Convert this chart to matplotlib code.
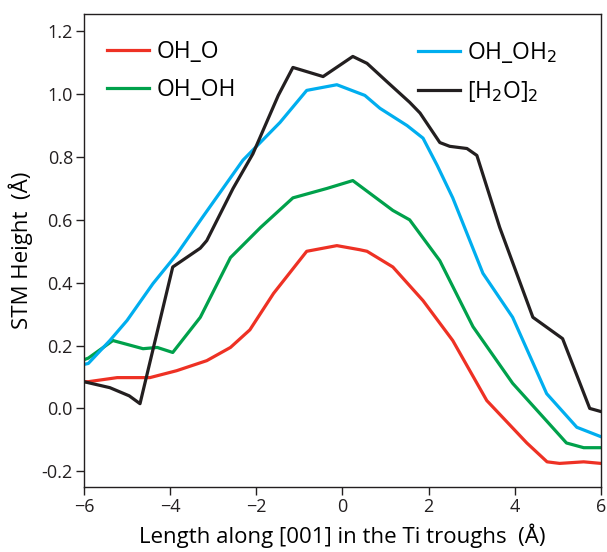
import numpy as np
import matplotlib
matplotlib.use("Agg")
import matplotlib.pyplot as plt

plt.rcParams['font.family'] = ['Open Sans', 'DejaVu Sans']

# OH_O (red)
x_oh_o = [-6.0, -5.9, -5.23, -4.47, -3.85, -3.15, -2.6, -2.15, -1.6, -0.83, -0.13, 0.4, 0.57,
          1.17, 1.87, 2.56, 3.35, 4.28, 4.75, 5.04, 5.6, 6.0]
y_oh_o = [0.085, 0.085, 0.098, 0.098, 0.12, 0.152, 0.194, 0.25, 0.366, 0.50, 0.518, 0.505, 0.50,
          0.45, 0.343, 0.216, 0.025, -0.11, -0.17, -0.175, -0.17, -0.175]

# OH_OH (green)
x_oh_oh = [-6.0, -5.9, -5.33, -4.63, -4.3, -3.94, -3.3, -2.6, -1.9, -1.15, -0.36, 0.24, 1.17,
           1.56, 2.26, 3.03, 3.95, 4.74, 5.2, 5.6, 6.0]
y_oh_oh = [0.155, 0.16, 0.216, 0.19, 0.194, 0.178, 0.29, 0.48, 0.576, 0.67, 0.70, 0.725, 0.63,
           0.60, 0.47, 0.26, 0.08, -0.04, -0.11, -0.125, -0.125]

# OH_OH2 (blue)
x_oh_oh2 = [-6.0, -5.9, -5.4, -5.0, -4.4, -3.85, -3.24, -2.31, -1.45, -0.83, -0.13, 0.52, 0.87,
            1.5, 1.87, 2.2, 2.56, 3.26, 3.95, 4.74, 5.44, 6.0]
y_oh_oh2 = [0.14, 0.143, 0.216, 0.28, 0.397, 0.49, 0.61, 0.79, 0.91, 1.012, 1.03, 0.996, 0.955,
            0.90, 0.86, 0.773, 0.67, 0.43, 0.29, 0.047, -0.06, -0.09]

# [H2O]2 (black)
x_h2o2 = [-6.0, -5.4, -4.95, -4.7, -3.94, -3.3, -3.15, -2.54, -2.08, -1.49, -1.15, -0.45, 0.24,
          0.57, 1.03, 1.56, 1.8, 2.26, 2.49, 2.89, 3.12, 3.65, 4.42, 5.11, 5.74, 6.0]
y_h2o2 = [0.085, 0.066, 0.04, 0.015, 0.45, 0.51, 0.534, 0.70, 0.81, 0.996, 1.085, 1.056, 1.12,
          1.098, 1.04, 0.974, 0.94, 0.846, 0.834, 0.827, 0.805, 0.576, 0.29, 0.222, 0.0, -0.01]

fig = plt.figure(figsize=(6.07, 5.52), dpi=100)
ax = fig.add_axes([0.1384, 0.1178, 0.8516, 0.8568])

lw = 2.3
l1, = ax.plot(x_oh_o, y_oh_o, color='#ee3124', lw=lw, label='OH_O')
l2, = ax.plot(x_oh_oh, y_oh_oh, color='#00a14b', lw=lw, label='OH_OH')
l3, = ax.plot(x_oh_oh2, y_oh_oh2, color='#00aeef', lw=lw, label='OH_OH$_2$')
l4, = ax.plot(x_h2o2, y_h2o2, color='#231f20', lw=lw, label='[H$_2$O]$_2$')

ax.set_xlim(-6, 6)
ax.set_ylim(-0.25, 1.255)
ax.set_xticks(np.arange(-6, 7, 2))
ax.set_yticks(np.arange(-0.2, 1.21, 0.2))
ax.set_yticklabels([f'{v:.1f}' for v in np.arange(-0.2, 1.21, 0.2)])
ax.tick_params(direction='out', length=6, width=1, labelsize=13, colors='#231f20', pad=2)
for s in ax.spines.values():
    s.set_color('#231f20')
    s.set_linewidth(1)

ax.set_xlabel('Length along [001] in the Ti troughs  (Å)', fontsize=16)
ax.set_ylabel('STM Height  (Å)', fontsize=16)
ax.xaxis.set_label_coords(0.5, -0.078)
ax.yaxis.set_label_coords(-0.099, 0.5)

leg_kw = dict(frameon=False, fontsize=16.5, handlelength=1.85, handletextpad=0.3,
              borderaxespad=0, borderpad=0, labelspacing=0.65, loc='upper left')
leg1 = ax.legend(handles=[l1, l2], bbox_to_anchor=(0.0445, 0.946), **leg_kw)
ax.add_artist(leg1)
ax.legend(handles=[l3, l4], bbox_to_anchor=(0.646, 0.946), **leg_kw)

fig.savefig('out.png', dpi=100)
